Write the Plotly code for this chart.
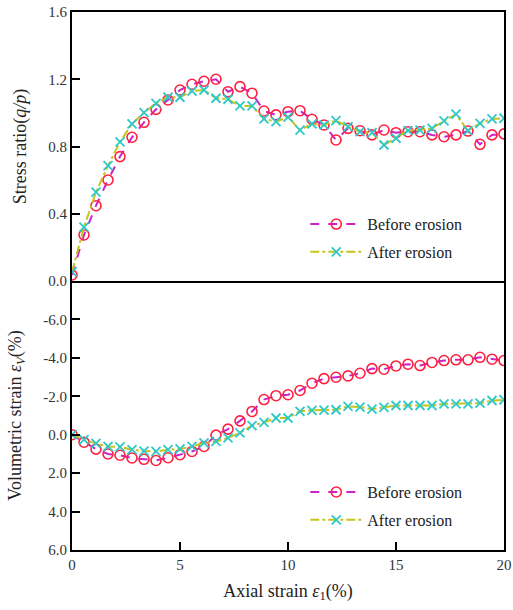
import plotly.graph_objects as go

# ---- data ----
n_pts = 37
strain = [i * 20 / 36 for i in range(n_pts)]

ratio_before = [0.036, 0.274, 0.448, 0.601, 0.74, 0.855, 0.944, 1.021, 1.077, 1.136,
                1.17, 1.188, 1.20, 1.126, 1.156, 1.117, 1.011, 0.988, 1.007, 1.013,
                0.962, 0.928, 0.839, 0.908, 0.894, 0.869, 0.898, 0.882, 0.888, 0.888,
                0.869, 0.858, 0.869, 0.892, 0.813, 0.869, 0.875]
ratio_after = [0.055, 0.32, 0.528, 0.686, 0.827, 0.934, 1.001, 1.057, 1.093, 1.093,
               1.13, 1.136, 1.087, 1.081, 1.041, 1.041, 0.964, 0.948, 0.975, 0.898,
               0.934, 0.928, 0.954, 0.918, 0.888, 0.882, 0.809, 0.849, 0.894, 0.898,
               0.908, 0.952, 0.992, 0.894, 0.938, 0.964, 0.968]
vol_before = [0.0, 0.39, 0.75, 1.0, 1.07, 1.21, 1.28, 1.34, 1.2, 1.04,
              0.87, 0.61, 0.02, -0.29, -0.72, -1.21, -1.83, -2.03, -2.08, -2.3,
              -2.68, -2.92, -2.99, -3.06, -3.2, -3.44, -3.41, -3.58, -3.67, -3.6,
              -3.76, -3.86, -3.9, -3.9, -4.03, -3.93, -3.86]
vol_after = [0.0, 0.26, 0.45, 0.61, 0.63, 0.78, 0.85, 0.87, 0.78, 0.74,
             0.61, 0.43, 0.35, 0.17, -0.1, -0.47, -0.64, -0.87, -0.87, -1.22,
             -1.27, -1.28, -1.3, -1.47, -1.44, -1.33, -1.42, -1.52, -1.52, -1.52,
             -1.52, -1.61, -1.61, -1.61, -1.64, -1.78, -1.82]

x_ticks = [0, 5, 10, 15, 20]
ratio_ticks = [0.0, 0.4, 0.8, 1.2, 1.6]
vol_ticks = [-6, -4, -2, 0, 2, 4, 6]
vol_tick_text = ["-6.0", "-4.0", "-2.0", "0.0", "2.0", "4.0", "6.0"]
series_names = ["Before erosion", "After erosion"]

# ---- styles ----
FONT = "Liberation Serif"
line_before = dict(color="#CC22CC", width=2, dash="dash")
line_after = dict(color="#C4C41C", width=2, dash="dashdot")
mk_before = dict(symbol="circle-open", size=10, color="#FF2040", line=dict(width=1.6, color="#FF2040"))
mk_after = dict(symbol="x-thin-open", size=9, color="#2EC8C8", line=dict(width=1.8, color="#2EC8C8"))

fig = go.Figure()
# top panel
fig.add_trace(go.Scatter(x=strain, y=ratio_before, name=series_names[0], mode="lines+markers",
                         line=line_before, marker=mk_before, xaxis="x2", yaxis="y2",
                         legend="legend", legendgroup="tb"))
fig.add_trace(go.Scatter(x=strain, y=ratio_after, name=series_names[1], mode="lines+markers",
                         line=line_after, marker=mk_after, xaxis="x2", yaxis="y2",
                         legend="legend", legendgroup="ta"))
# bottom panel
fig.add_trace(go.Scatter(x=strain, y=vol_before, name=series_names[0], mode="lines+markers",
                         line=line_before, marker=mk_before, xaxis="x", yaxis="y",
                         legend="legend2", legendgroup="bb"))
fig.add_trace(go.Scatter(x=strain, y=vol_after, name=series_names[1], mode="lines+markers",
                         line=line_after, marker=mk_after, xaxis="x", yaxis="y",
                         legend="legend2", legendgroup="ba"))

axis_common = dict(showline=True, linecolor="black", linewidth=2, mirror=True,
                   showgrid=False, zeroline=False, automargin=False,
                   tickfont=dict(family=FONT, size=15, color="#333"),
                   tickcolor="black", tickwidth=2, ticklen=8, ticks="inside")

legend_common = dict(font=dict(family=FONT, size=16, color="#222"), bgcolor="rgba(0,0,0,0)",
                     itemwidth=52, xanchor="left", yanchor="bottom", x=0.54,
                     tracegroupgap=4)

fig.update_layout(
    width=513, height=610,
    margin=dict(l=72, r=9, t=12, b=60, autoexpand=False),
    plot_bgcolor="white", paper_bgcolor="white",
    showlegend=True,
    xaxis=dict(axis_common, domain=[0, 1], anchor="y", range=[0, 20], tickvals=x_ticks,
               mirror=False,
               title=dict(text="Axial strain <i>ε</i><sub>1</sub>(%)",
                          font=dict(family=FONT, size=18, color="#222"), standoff=12)),
    yaxis=dict(axis_common, domain=[0, 0.5], anchor="x", range=[6, -8],
               tickvals=vol_ticks, ticktext=vol_tick_text,
               title=dict(text="Volumetric strain <i>ε<sub>V</sub></i>(%)",
                          font=dict(family=FONT, size=18, color="#222"), standoff=17)),
    xaxis2=dict(axis_common, domain=[0, 1], anchor="y2", range=[0, 20], matches="x",
                showticklabels=False, ticks=""),
    yaxis2=dict(axis_common, domain=[0.5, 1], anchor="x2", range=[0, 1.6],
                tickvals=ratio_ticks, tickformat=".1f",
                title=dict(text="Stress ratio(<i>q/p</i>)",
                           font=dict(family=FONT, size=18, color="#222"), standoff=17)),
    legend=dict(legend_common, y=0.522),
    legend2=dict(legend_common, y=0.024),
)

fig.write_html("out.html")
